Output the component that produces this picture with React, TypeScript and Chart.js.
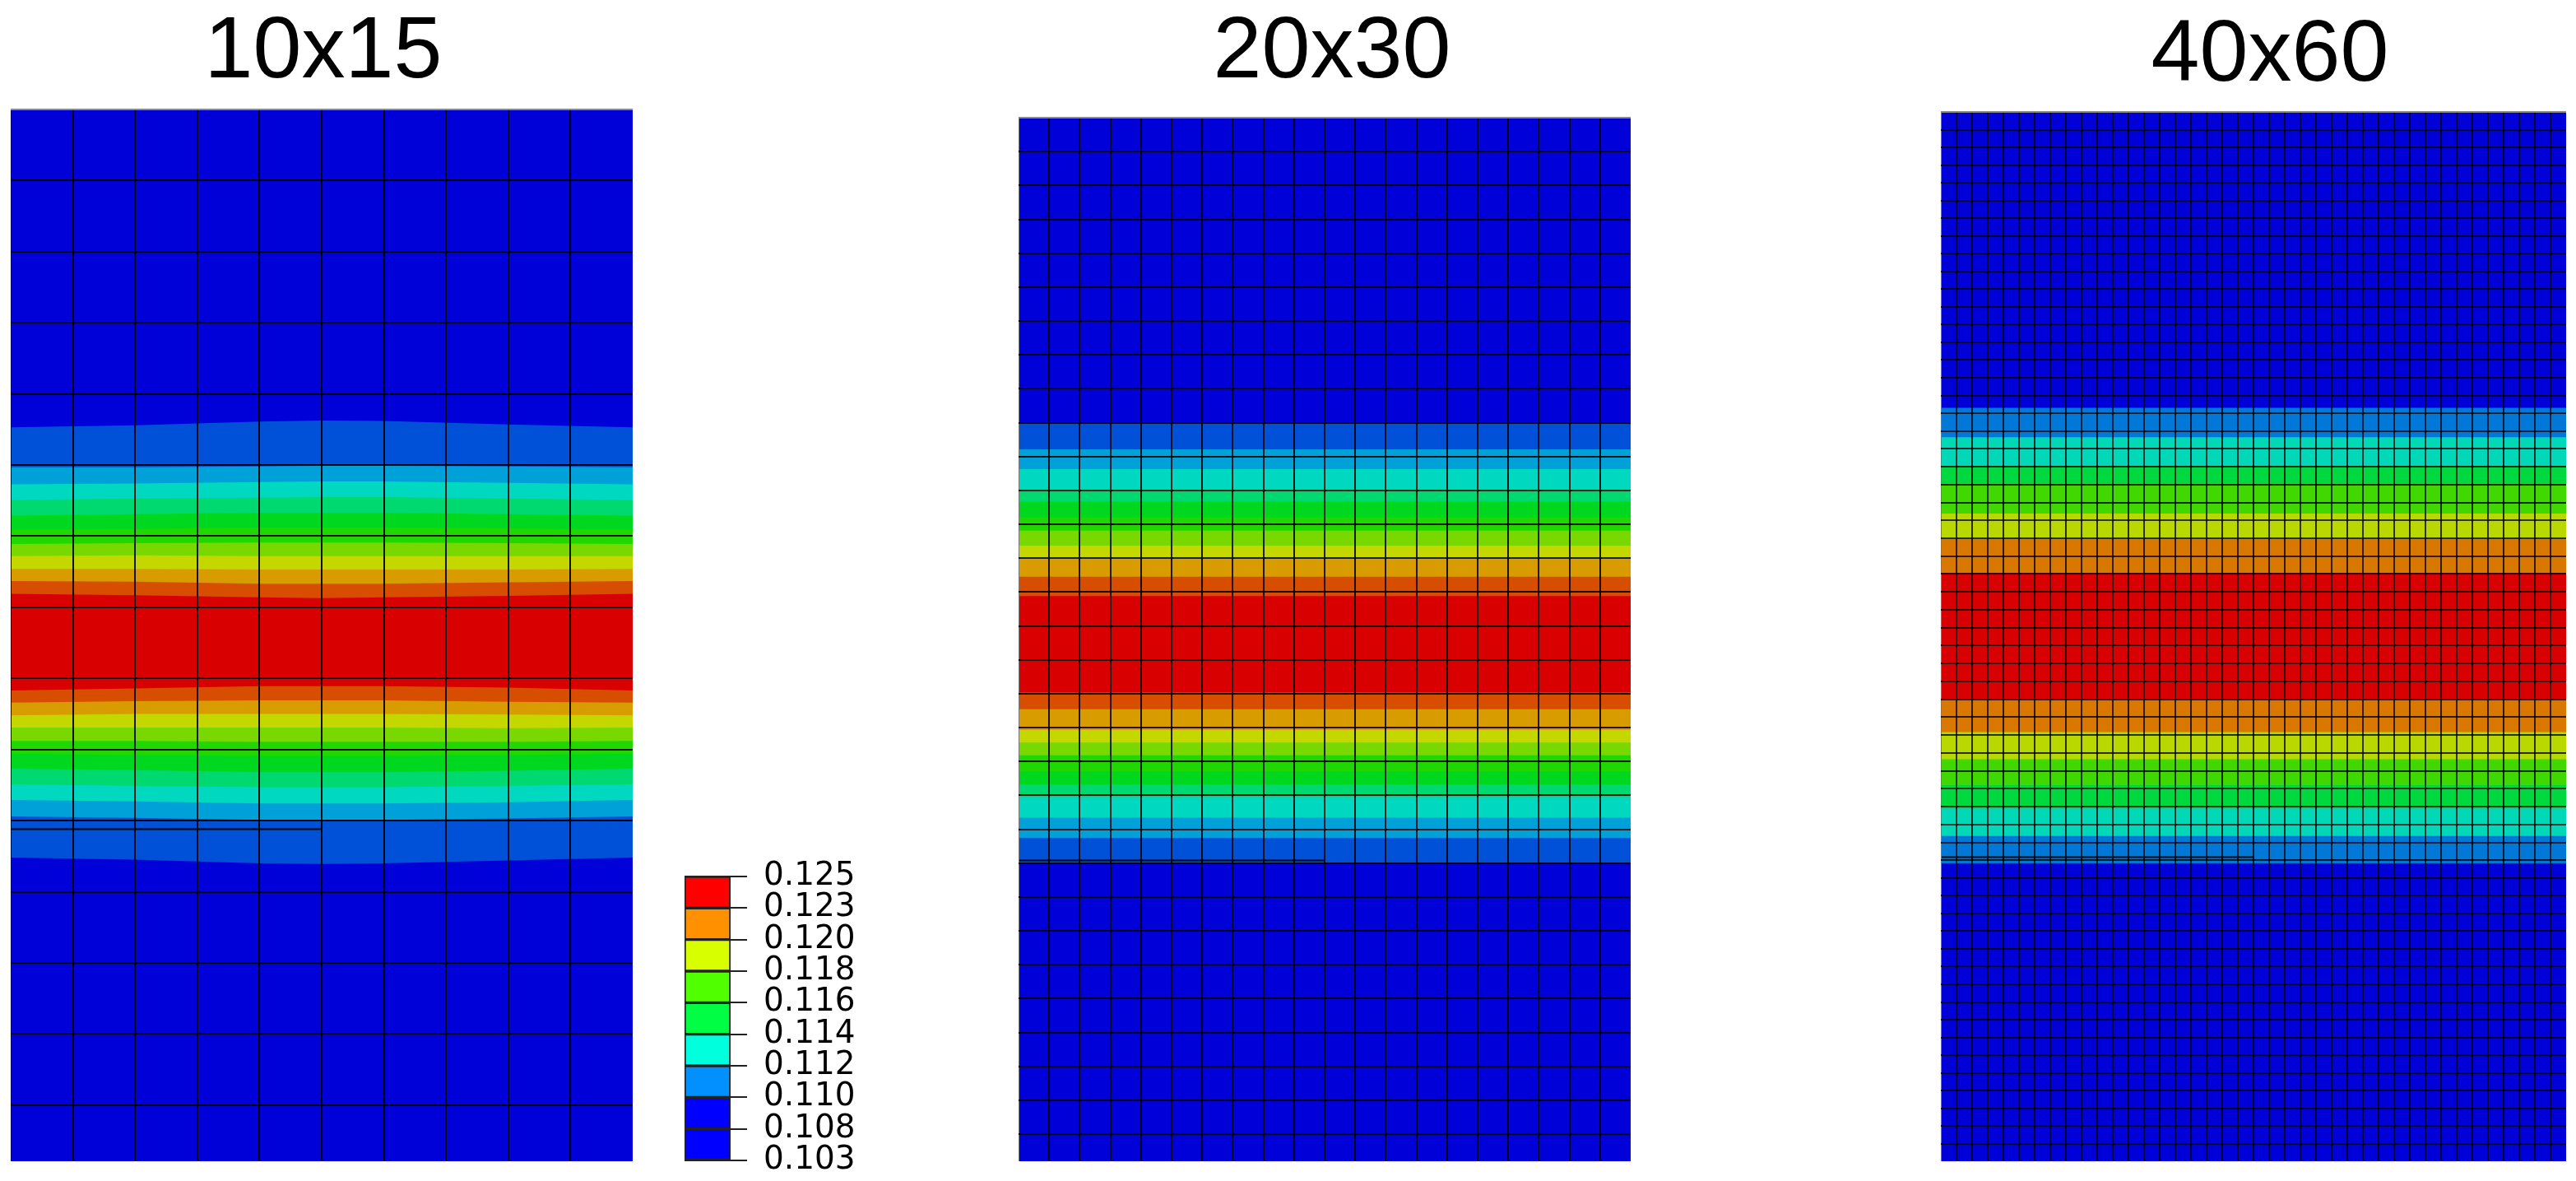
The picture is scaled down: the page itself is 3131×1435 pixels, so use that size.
import React, { useEffect, useRef } from "react";
import { Chart, registerables } from "chart.js";

Chart.register(...registerables);

// ---------- data ----------
const titles = ["10x15", "20x30", "40x60"];
const colTotals = [10, 20, 40];
const rowTotals = [14.79, 30.8, 1275];

const wideColours = ["#0000d8", "#0050d8", "#00a0d8", "#00d8c0", "#00d870", "#00d820", "#20d800", "#78d800", "#c4d800", "#d89c00", "#d84e00", "#d80000", "#d84e00", "#d89c00", "#c4d800", "#78d800", "#20d800", "#00d820", "#00d870", "#00d8c0", "#00a0d8", "#0050d8", "#0000d8"];
const fineColours = ["#0000d8", "#0078d8", "#00d8b8", "#00d840", "#40d800", "#b8d800", "#d87800", "#d80000", "#d87800", "#b8d800", "#40d800", "#00d840", "#00d8b8", "#0078d8", "#0000d8"];

const coarseNodes = [0, 2, 4, 5, 6, 8, 10];
const coarseBounds = [
  [0, 0, 0, 0, 0, 0, 0],
  [4.47, 4.44, 4.39, 4.375, 4.38, 4.43, 4.47],
  [5.03, 5.03, 5.02, 5.01, 5.01, 5.02, 5.03],
  [5.27, 5.26, 5.24, 5.23, 5.23, 5.25, 5.27],
  [5.49, 5.47, 5.46, 5.45, 5.45, 5.47, 5.49],
  [5.71, 5.69, 5.67, 5.67, 5.67, 5.69, 5.71],
  [5.91, 5.9, 5.88, 5.88, 5.88, 5.89, 5.91],
  [6.11, 6.1, 6.09, 6.09, 6.09, 6.1, 6.11],
  [6.28, 6.27, 6.28, 6.28, 6.28, 6.28, 6.28],
  [6.46, 6.46, 6.47, 6.47, 6.47, 6.47, 6.46],
  [6.63, 6.64, 6.67, 6.67, 6.67, 6.65, 6.63],
  [6.81, 6.83, 6.86, 6.87, 6.86, 6.84, 6.81],
  [8.17, 8.14, 8.11, 8.11, 8.11, 8.13, 8.17],
  [8.34, 8.32, 8.31, 8.31, 8.31, 8.33, 8.34],
  [8.52, 8.5, 8.5, 8.5, 8.5, 8.51, 8.52],
  [8.69, 8.69, 8.69, 8.69, 8.69, 8.7, 8.69],
  [8.88, 8.88, 8.89, 8.89, 8.89, 8.89, 8.88],
  [9.06, 9.08, 9.09, 9.09, 9.09, 9.08, 9.06],
  [9.27, 9.29, 9.32, 9.32, 9.32, 9.3, 9.27],
  [9.49, 9.51, 9.53, 9.53, 9.53, 9.51, 9.49],
  [9.71, 9.73, 9.76, 9.76, 9.76, 9.74, 9.71],
  [9.94, 9.96, 9.99, 9.99, 9.99, 9.97, 9.94],
  [10.52, 10.55, 10.6, 10.61, 10.6, 10.56, 10.52],
];

const mediumNodes = [0, 20];
const mediumBounds = [0, 9.0, 9.79, 10.37, 10.97, 11.33, 11.8, 12.19, 12.63, 13.02, 13.55, 14.12, 16.96, 17.46, 18.07, 18.44, 18.82, 19.29, 19.68, 20.05, 20.66, 21.26, 22.0];

const fineNodes = [0, 40];
const fineBounds = [0, 359.6, 395.3, 429.9, 451.8, 487.9, 518.4, 560.3, 713.6, 753.4, 786.4, 817.9, 846.2, 879.7, 913];
const fineRowLines = [0, 21.5, 43, 64.6, 86.1, 107.7, 129.2, 150.7, 172.2, 193.8, 215.3, 236.8, 258.4, 279.9, 301.4, 323, 344.5, 366, 387.5, 409.2, 431, 452.7, 474.5, 496.2, 517.9, 539.7, 561.4, 583.2, 604.9, 626.6, 648.4, 670.1, 691.9, 713.6, 735.3, 757.1, 778.8, 800.6, 822.3, 844, 865.8, 887.5, 909.2, 930.8, 952.3, 973.8, 995.4, 1016.9, 1038.4, 1060, 1081.5, 1103, 1124.6, 1146.1, 1167.6, 1189.2, 1210.7, 1232.2, 1253.8];

// stray half-width mesh seams: [x start, x end, row]
const coarseSeam = [0, 5, 10.12];
const mediumSeam = [0, 10, 21.92];
const fineSeam = [0, 20, 905.5];

const scaleLabels = ["0.103", "0.108", "0.110", "0.112", "0.114", "0.116", "0.118", "0.120", "0.123", "0.125"];
const scaleColours = ["#0000ff", "#0000ff", "#0090ff", "#00ffdc", "#00ff44", "#50ff00", "#d8ff00", "#ff9000", "#ff0000"];

// ---------- helpers ----------
function meshDatasets(nodes: number[], bounds: number[][], colours: string[], seam: number[]) {
  const sets: any[] = bounds.map((row, k) => ({
    data: row.map((y, i) => ({ x: nodes[i], y })),
    backgroundColor: colours[k],
    borderWidth: 0,
    pointRadius: 0,
    fill: "start",
    order: 100 - k,
  }));
  sets.push({
    data: [{ x: seam[0], y: seam[2] }, { x: seam[1], y: seam[2] }],
    borderColor: "#000",
    borderWidth: 2,
    pointRadius: 0,
    fill: false,
    order: -1,
  });
  return sets;
}

function meshOptions(index: number, titleTop: number, titleBottom: number, gutter: number, edgeColour: string, lineAlpha: number, rowLines?: number[]) {
  const cols = colTotals[index];
  const rows = rowTotals[index];
  const lineColour = `rgba(0,0,0,${lineAlpha})`;
  return {
    responsive: false,
    animation: false,
    devicePixelRatio: 1,
    layout: { padding: 0, autoPadding: false },
    plugins: {
      legend: { display: false },
      tooltip: { enabled: false },
      title: {
        display: true,
        text: titles[index],
        color: "#000",
        font: { family: "'Liberation Sans', Arial, sans-serif", size: 106, weight: "normal", lineHeight: 1 },
        padding: { top: titleTop, bottom: titleBottom },
      },
    },
    scales: {
      x: {
        type: "linear",
        min: 0,
        max: cols,
        border: { display: false },
        ticks: { display: false, stepSize: 1, includeBounds: false, autoSkip: false },
        grid: {
          z: 1,
          drawTicks: false,
          lineWidth: 2,
          color: (c: any) => (c.tick.value === 0 ? edgeColour : c.tick.value >= cols ? "rgba(0,0,0,0)" : lineColour),
        },
      },
      y: {
        type: "linear",
        reverse: true,
        min: 0,
        max: rows,
        border: { display: false },
        afterBuildTicks: rowLines ? (s: any) => { s.ticks = rowLines.map((value) => ({ value })); } : undefined,
        ticks: { display: false, stepSize: 1, includeBounds: false, autoSkip: false },
        grid: {
          z: 1,
          drawTicks: false,
          lineWidth: 2,
          color: (c: any) => (c.tick.value === 0 ? "#8a8a8a" : c.tick.value >= rows ? "rgba(0,0,0,0)" : lineColour),
        },
      },
      // an empty axis that keeps the mesh left of the title's centre line
      gutter: {
        type: "linear",
        position: "right",
        display: true,
        border: { display: false },
        grid: { display: false, drawTicks: false },
        ticks: { display: false },
        afterFit: (s: any) => { s.width = gutter; s.paddingTop = 0; s.paddingBottom = 0; },
      },
    },
  };
}

export default function App() {
  const a = useRef<HTMLCanvasElement>(null);
  const b = useRef<HTMLCanvasElement>(null);
  const c = useRef<HTMLCanvasElement>(null);
  const l = useRef<HTMLCanvasElement>(null);

  useEffect(() => {
    const charts: Chart[] = [];
    charts.push(new Chart(a.current!, {
      type: "line",
      data: { datasets: meshDatasets(coarseNodes, coarseBounds, wideColours, coarseSeam) },
      options: meshOptions(0, 12, 15, 4, "#111", 0.92) as any,
    }));
    charts.push(new Chart(b.current!, {
      type: "line",
      data: { datasets: meshDatasets(mediumNodes, mediumBounds.map((v) => [v, v]), wideColours, mediumSeam) },
      options: meshOptions(1, 12, 25, 18, "#777", 0.88) as any,
    }));
    charts.push(new Chart(c.current!, {
      type: "line",
      data: { datasets: meshDatasets(fineNodes, fineBounds.map((v) => [v, v]), fineColours, fineSeam) },
      options: meshOptions(2, 16, 14, 40, "#777", 0.78, fineRowLines) as any,
    }));
    charts.push(new Chart(l.current!, {
      type: "bar",
      data: {
        labels: ["scale"],
        datasets: scaleColours.map((colour, i) => ({
          data: [[i, i + 1]],
          backgroundColor: colour,
          borderColor: "#222",
          borderWidth: 2,
          borderSkipped: false,
          barPercentage: 1,
          categoryPercentage: 1,
        })),
      } as any,
      options: {
        responsive: false,
        animation: false,
        devicePixelRatio: 1,
        layout: { padding: { top: 35, bottom: 25, left: 0, right: 0 }, autoPadding: false },
        plugins: { legend: { display: false }, tooltip: { enabled: false }, title: { display: false } },
        scales: {
          x: { stacked: true, display: false },
          y: {
            position: "right",
            min: 0,
            max: 9,
            afterFit: (s: any) => { s.width = 152; s.paddingTop = 0; s.paddingBottom = 0; },
            border: { display: false },
            grid: { color: "#222", lineWidth: 2, tickLength: 20, z: 1 },
            ticks: {
              stepSize: 1,
              padding: 20,
              labelOffset: 0,
              color: "#000",
              font: { family: "'DejaVu Sans'", size: 39 },
              autoSkip: false,
              callback: (v: any) => scaleLabels[v],
            },
          },
        },
      } as any,
    }));
    return () => charts.forEach((ch) => ch.destroy());
  }, []);

  const place = (left: number, top: number): React.CSSProperties => ({ position: "absolute", left, top, display: "block" });

  return (
    <div style={{ position: "absolute", left: 0, top: 0, width: 3131, height: 1435, overflow: "hidden", background: "#fff" }}>
      <canvas ref={a} width={760} height={1411} style={place(13, 0)} />
      <canvas ref={b} width={762} height={1411} style={place(1238, 0)} />
      <canvas ref={c} width={800} height={1411} style={place(2359, 0)} />
      <canvas ref={l} width={208} height={405} style={place(832, 1030)} />
    </div>
  );
}
